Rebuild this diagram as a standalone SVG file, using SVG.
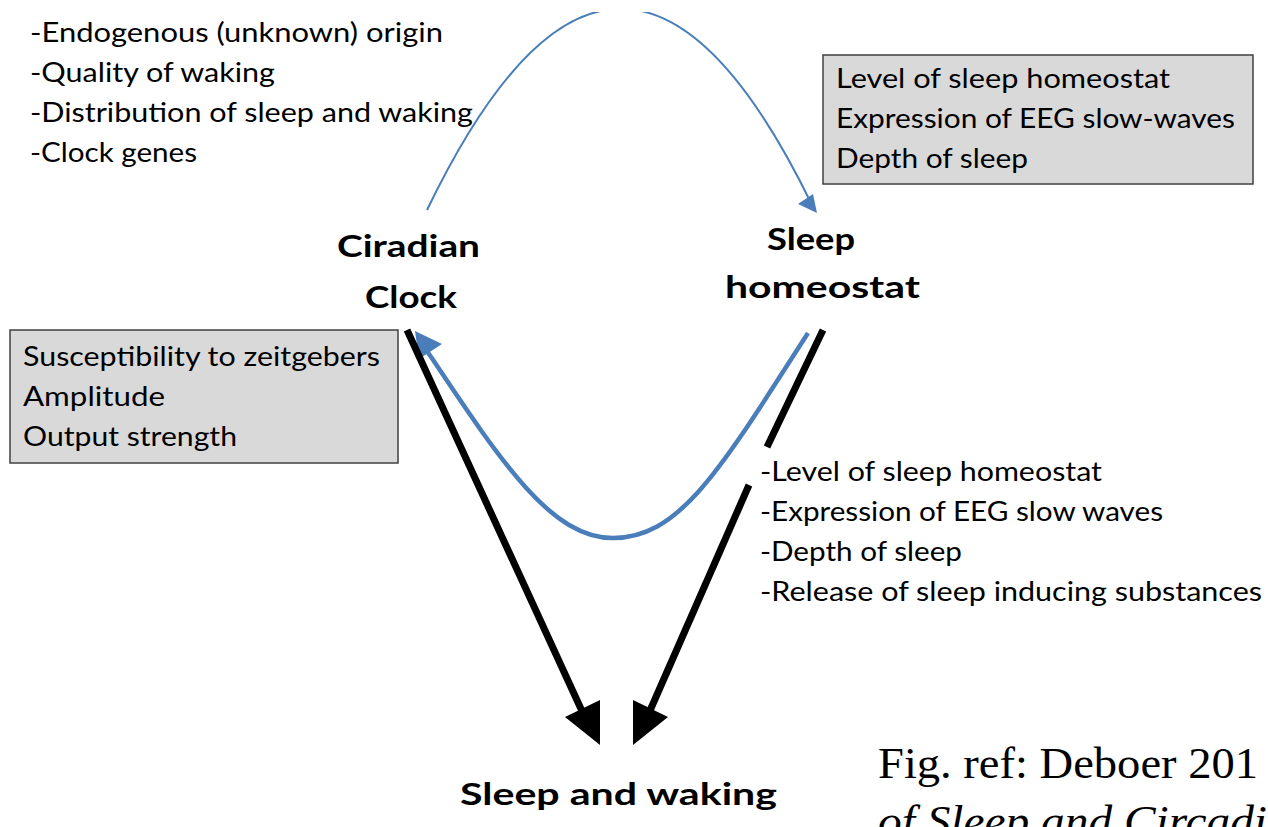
<svg xmlns="http://www.w3.org/2000/svg" width="1268" height="827" viewBox="0 0 1268 827">
<style>
.t{font-family:Lato,"Open Sans","Liberation Sans",sans-serif;font-size:26px;fill:#000}
.b{font-family:Lato,"Open Sans","Liberation Sans",sans-serif;font-size:31px;font-weight:bold;fill:#000}
.box{fill:#d9d9d9;stroke:#404040;stroke-width:1.5}
.ref{font-family:"Liberation Serif","Times New Roman",serif;font-size:45px;fill:#000}
.blue{fill:none;stroke:#4a7ebb}
.blk{fill:none;stroke:#000;stroke-width:7}
</style>
<defs>
<clipPath id="top"><rect x="0" y="12" width="1268" height="815"/></clipPath>
</defs>
<rect width="1268" height="827" fill="#fff"/>

<g id="connectors">
  <path class="blue" d="M427,210 Q620,-190 812,205" stroke-width="2" clip-path="url(#top)"/>
  <polygon points="817,213 798,204 813,194" fill="#4a7ebb"/>
  <path class="blue" stroke-width="4.5" d="M808,333 C720,470 680,538 613,538 C550,538 500,460 425,348"/>
  <polygon points="415,331 442,344 419,359" fill="#4a7ebb"/>
  <line class="blk" x1="407" y1="330" x2="587" y2="722"/>
  <polygon points="600,745 565,717 600,700" fill="#000"/>
  <line class="blk" x1="823" y1="330" x2="767" y2="447"/>
  <line class="blk" x1="749" y1="485" x2="645" y2="722"/>
  <polygon points="633,745 633,700 668,717" fill="#000"/>
</g>

<g id="circadian-notes">
  <text class="t" x="30" y="42" textLength="413" lengthAdjust="spacingAndGlyphs">-Endogenous (unknown) origin</text>
  <text class="t" x="30" y="82" textLength="245" lengthAdjust="spacingAndGlyphs">-Quality of waking</text>
  <text class="t" x="30" y="122" textLength="443" lengthAdjust="spacingAndGlyphs">-Distribution of sleep and waking</text>
  <text class="t" x="30" y="162" textLength="167" lengthAdjust="spacingAndGlyphs">-Clock genes</text>
</g>

<g id="homeostat-box">
  <rect class="box" x="823" y="55" width="430" height="129"/>
  <text class="t" x="836" y="88" textLength="334" lengthAdjust="spacingAndGlyphs">Level of sleep homeostat</text>
  <text class="t" x="836" y="128" textLength="399" lengthAdjust="spacingAndGlyphs">Expression of EEG slow-waves</text>
  <text class="t" x="836" y="168" textLength="192" lengthAdjust="spacingAndGlyphs">Depth of sleep</text>
</g>

<g id="clock-box">
  <rect class="box" x="10" y="330" width="388" height="133"/>
  <text class="t" x="23" y="366" textLength="357" lengthAdjust="spacingAndGlyphs">Susceptibility to zeitgebers</text>
  <text class="t" x="23" y="406" textLength="142" lengthAdjust="spacingAndGlyphs">Amplitude</text>
  <text class="t" x="23" y="446" textLength="214" lengthAdjust="spacingAndGlyphs">Output strength</text>
</g>

<g id="circadian-clock">
  <text class="b" x="337" y="257" textLength="143" lengthAdjust="spacingAndGlyphs">Ciradian</text>
  <text class="b" x="365" y="308" textLength="92" lengthAdjust="spacingAndGlyphs">Clock</text>
</g>

<g id="sleep-homeostat">
  <text class="b" x="767" y="250" textLength="88" lengthAdjust="spacingAndGlyphs">Sleep</text>
  <text class="b" x="725" y="298" textLength="195" lengthAdjust="spacingAndGlyphs">homeostat</text>
</g>

<g id="homeostat-notes">
  <text class="t" x="760" y="481" textLength="342" lengthAdjust="spacingAndGlyphs">-Level of sleep homeostat</text>
  <text class="t" x="760" y="521" textLength="403" lengthAdjust="spacingAndGlyphs">-Expression of EEG slow waves</text>
  <text class="t" x="760" y="561" textLength="202" lengthAdjust="spacingAndGlyphs">-Depth of sleep</text>
  <text class="t" x="760" y="601" textLength="502" lengthAdjust="spacingAndGlyphs">-Release of sleep inducing substances</text>
</g>

<g id="sleep-waking">
  <text class="b" x="460" y="805" textLength="317" lengthAdjust="spacingAndGlyphs">Sleep and waking</text>
</g>

<g id="figref">
  <text class="ref" x="878" y="778" textLength="380" lengthAdjust="spacingAndGlyphs">Fig. ref: Deboer 201</text>
  <text class="ref" x="878" y="836" font-style="italic" textLength="389" lengthAdjust="spacingAndGlyphs">of Sleep and Circadi</text>
</g>
</svg>
